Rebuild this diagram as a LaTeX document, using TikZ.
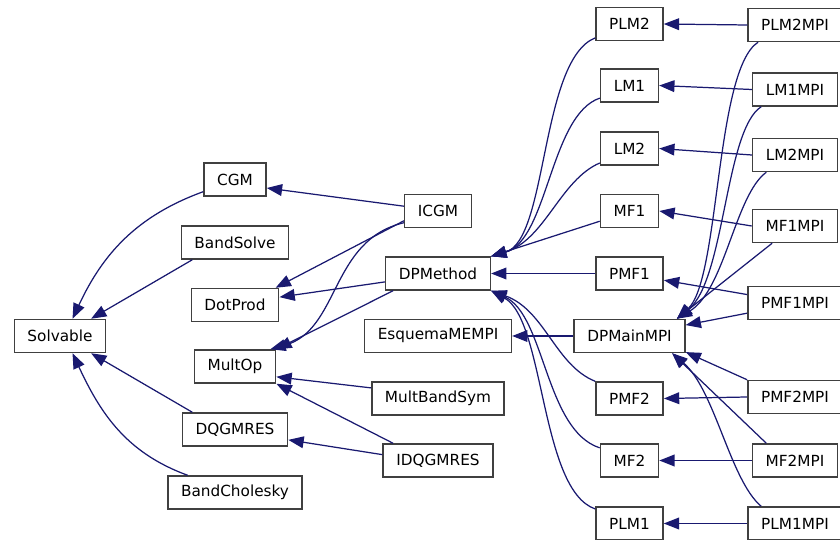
\documentclass[tikz,border=0pt]{standalone}
\usepackage{fontspec}
\setmainfont{DejaVu Sans}
\usetikzlibrary{arrows.meta}
\definecolor{edgeblue}{RGB}{25,25,112}
\begin{document}
\begin{tikzpicture}[x=0.85pt, y=0.85pt, >={Triangle[length=13pt,width=10pt]},
    cls/.style={draw=black!75, line width=1.3pt, fill=white, minimum height=28pt,
      inner xsep=11.2pt, inner ysep=0pt, font=\fontsize{13pt}{15pt}\selectfont},
    inh/.style={->, draw=edgeblue, line width=1.05pt}]
    \useasboundingbox (0,0) rectangle (840,540);
    % classes
    \node[cls] (Solvable) at (60,204) {Solvable};
    \node[cls] (CGM) at (235,360.5) {CGM};
    \node[cls] (BandSolve) at (235,297.5) {BandSolve};
    \node[cls] (DotProd) at (235,235) {DotProd};
    \node[cls] (MultOp) at (235,173.5) {MultOp};
    \node[cls] (DQGMRES) at (235,110.5) {DQGMRES};
    \node[cls] (BandCholesky) at (235,47.5) {BandCholesky};
    \node[cls] (ICGM) at (438,329) {ICGM};
    \node[cls] (DPMethod) at (438,266.5) {DPMethod};
    \node[cls] (EsquemaMEMPI) at (438,204) {EsquemaMEMPI};
    \node[cls] (MultBandSym) at (438,141.5) {MultBandSym};
    \node[cls] (IDQGMRES) at (438,79.5) {IDQGMRES};
    \node[cls] (PLM2) at (629.5,516) {PLM2};
    \node[cls] (LM1) at (629.5,454.5) {LM1};
    \node[cls] (LM2) at (629.5,391.5) {LM2};
    \node[cls] (MF1) at (629.5,329) {MF1};
    \node[cls] (PMF1) at (629.5,266.5) {PMF1};
    \node[cls] (DPMainMPI) at (629.5,204) {DPMainMPI};
    \node[cls] (PMF2) at (629.5,141.5) {PMF2};
    \node[cls] (MF2) at (629.5,79.5) {MF2};
    \node[cls] (PLM1) at (629.5,16.5) {PLM1};
    \node[cls] (PLM2MPI) at (795,515) {PLM2MPI};
    \node[cls] (LM1MPI) at (795,450.5) {LM1MPI};
    \node[cls] (LM2MPI) at (795,385) {LM2MPI};
    \node[cls] (MF1MPI) at (795,314) {MF1MPI};
    \node[cls] (PMF1MPI) at (795,237) {PMF1MPI};
    \node[cls] (PMF2MPI) at (795,143) {PMF2MPI};
    \node[cls] (MF2MPI) at (795,79.5) {MF2MPI};
    \node[cls] (PLM1MPI) at (795,16.5) {PLM1MPI};
    % left part
    \draw[inh] (CGM.201) to[out=200, in=65] (Solvable.54);
    \draw[inh] (BandSolve.202) -- (Solvable.29);
    \draw[inh] (DQGMRES.158) -- (Solvable.-29);
    \draw[inh] (BandCholesky.160) to[out=160, in=-65] (Solvable.-54);
    \draw[inh] (ICGM.172) -- (CGM.-15);
    \draw[inh] (ICGM.196) -- (DotProd.23);
    \draw[inh] (ICGM.199) .. controls (330,300) and (340,210) .. (MultOp.26);
    \draw[inh] (DPMethod.189) -- (DotProd.10);
    \draw[inh] (DPMethod.201) -- (MultOp.north east);
    \draw[inh] (MultBandSym.171) -- (MultOp.-14);
    \draw[inh] (IDQGMRES.159) -- (MultOp.south east);
    \draw[inh] (IDQGMRES.174) -- (DQGMRES.-11);
    % into DPMethod
    \draw[inh] (PLM2.202) .. controls (540,480) and (548,300) .. (DPMethod.north east);
    \draw[inh] (LM1.203) .. controls (550,425) and (548,300) .. (DPMethod.north east);
    \draw[inh] (LM2.206) .. controls (560,360) and (545,300) .. (DPMethod.north east);
    \draw[inh] (MF1.199) -- (DPMethod.north east);
    \draw[inh] (PMF1.west) -- (DPMethod.east);
    \draw[inh] (PMF2.north west) .. controls (555,175) and (545,230) .. (DPMethod.south east);
    \draw[inh] (MF2.157) .. controls (545,110) and (545,225) .. (DPMethod.south east);
    \draw[inh] (PLM1.157) .. controls (540,50) and (545,220) .. (DPMethod.south east);
    \draw[inh] (DPMainMPI.west) -- (EsquemaMEMPI.east);
    % mpi classes
    \draw[inh] (PLM2MPI.west) -- (PLM2.east);
    \draw[inh] (LM1MPI.west) -- (LM1.east);
    \draw[inh] (LM2MPI.west) -- (LM2.east);
    \draw[inh] (MF1MPI.west) -- (MF1.east);
    \draw[inh] (PMF1MPI.170) -- (PMF1.-11);
    \draw[inh] (PMF2MPI.west) -- (PMF2.east);
    \draw[inh] (MF2MPI.west) -- (MF2.east);
    \draw[inh] (PLM1MPI.west) -- (PLM1.east);
    \draw[inh] (PLM2MPI.205) .. controls (715,470) and (720,260) .. (DPMainMPI.20);
    \draw[inh] (LM1MPI.207) .. controls (725,410) and (725,260) .. (DPMainMPI.20);
    \draw[inh] (LM2MPI.211) .. controls (735,345) and (725,250) .. (DPMainMPI.20);
    \draw[inh] (MF1MPI.217) -- (DPMainMPI.20);
    \draw[inh] (PMF1MPI.192) -- (DPMainMPI.11);
    \draw[inh] (PMF2MPI.north west) -- (DPMainMPI.-16);
    \draw[inh] (MF2MPI.149) -- (DPMainMPI.-22);
    \draw[inh] (PLM1MPI.153) .. controls (730,60) and (715,150) .. (DPMainMPI.-22);
\end{tikzpicture}
\end{document}
